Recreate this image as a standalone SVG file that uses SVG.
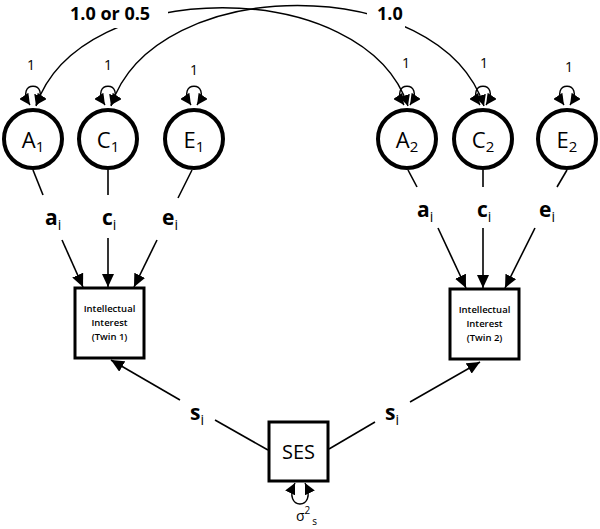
<svg xmlns="http://www.w3.org/2000/svg" width="600" height="529" viewBox="0 0 600 529">
<defs>
<style>
text{font-family:"Open Sans","Liberation Sans",sans-serif;fill:#000}
.lat{fill:#fff;stroke:#000;stroke-width:4}
.obs{fill:#fff;stroke:#000;stroke-width:3}
.ln{fill:none;stroke:#000;stroke-width:1.6}
.ar{fill:none;stroke:#000;stroke-width:1.6;marker-end:url(#ah)}
.cov{fill:none;stroke:#000;stroke-width:1.4;marker-start:url(#sh);marker-end:url(#sh)}
.loop{fill:none;stroke:#000;stroke-width:1.4;marker-start:url(#sh);marker-end:url(#sh)}
.nm{font-size:22px;text-anchor:middle}
.pl{font-size:21px;font-weight:bold}
.one{font-size:14px;text-anchor:middle}
.box{font-size:9.5px;font-weight:600;text-anchor:middle}
.big{font-size:18px;font-weight:bold}
</style>
<marker id="ah" markerUnits="userSpaceOnUse" markerWidth="13" markerHeight="12" refX="13" refY="6" orient="auto-start-reverse"><path d="M0,0 L13,6 L0,12 z" fill="#000"/></marker>
<marker id="sh" markerUnits="userSpaceOnUse" markerWidth="11" markerHeight="11" refX="11" refY="5.5" orient="auto-start-reverse"><path d="M0,0 L11,5.5 L0,11 z" fill="#000"/></marker>
</defs>
<rect width="600" height="529" fill="#fff"/>

<g id="connectors">
<!-- covariance arcs -->
<path class="cov" d="M408,106 C365,-25 80,-25 36,106"/>
<path class="cov" d="M484,106 C440,-28 155,-28 111,106"/>
<!-- self loops -->
<path class="loop" d="M30,105 C13,80 53,80 36,105"/>
<path class="loop" d="M105,105 C88,80 128,80 111,105"/>
<path class="loop" d="M191,105 C174,80 214,80 197,105"/>
<path class="loop" d="M404,105 C387,80 427,80 410,105"/>
<path class="loop" d="M480,105 C463,80 503,80 486,105"/>
<path class="loop" d="M564,105 C547,80 587,80 570,105"/>
<path class="loop" d="M295,483 C281,511 319,511 305,483"/>
<!-- twin 1 paths -->
<line class="ln" x1="33" y1="170" x2="43" y2="195"/>
<line class="ar" x1="62" y1="240" x2="83" y2="287"/>
<line class="ln" x1="108" y1="170" x2="108" y2="195"/>
<line class="ar" x1="108" y1="238" x2="108" y2="287"/>
<line class="ln" x1="192" y1="170" x2="178" y2="198"/>
<line class="ar" x1="157" y1="240" x2="134" y2="287"/>
<!-- twin 2 paths -->
<line class="ln" x1="408" y1="170" x2="417" y2="187"/>
<line class="ar" x1="438" y1="228" x2="466" y2="288"/>
<line class="ln" x1="483" y1="170" x2="483" y2="187"/>
<line class="ar" x1="483" y1="228" x2="483" y2="288"/>
<line class="ln" x1="567" y1="170" x2="557" y2="187"/>
<line class="ar" x1="535" y1="228" x2="505" y2="288"/>
<!-- SES paths -->
<line class="ln" x1="268" y1="450" x2="215" y2="420"/>
<line class="ar" x1="180" y1="400" x2="111" y2="360"/>
<line class="ln" x1="329" y1="449" x2="375" y2="422"/>
<line class="ar" x1="410" y1="402" x2="480" y2="362"/>
</g>

<g id="labels">
<rect x="62" y="0" width="106" height="28" fill="#fff"/>
<text class="big" x="70" y="20">1.0 or 0.5</text>
<rect x="367" y="0" width="38" height="29" fill="#fff"/>
<text class="big" x="377" y="20">1.0</text>
<text class="one" x="31" y="70">1</text>
<text class="one" x="108" y="70">1</text>
<text class="one" x="194" y="75">1</text>
<text class="one" x="406" y="68">1</text>
<text class="one" x="484" y="68">1</text>
<text class="one" x="569" y="72">1</text>
<text x="45" y="225"><tspan class="pl">a</tspan><tspan font-size="14" dy="5">i</tspan></text>
<text x="102" y="225"><tspan class="pl">c</tspan><tspan font-size="14" dy="5">i</tspan></text>
<text x="162" y="225"><tspan class="pl">e</tspan><tspan font-size="14" dy="5">i</tspan></text>
<text x="417" y="217"><tspan class="pl">a</tspan><tspan font-size="14" dy="5">i</tspan></text>
<text x="477" y="217"><tspan class="pl">c</tspan><tspan font-size="14" dy="5">i</tspan></text>
<text x="539" y="217"><tspan class="pl">e</tspan><tspan font-size="14" dy="5">i</tspan></text>
<text x="190" y="420"><tspan class="pl">s</tspan><tspan font-size="14" dy="5">i</tspan></text>
<text x="385" y="420"><tspan class="pl">s</tspan><tspan font-size="14" dy="5">i</tspan></text>
<text x="296" y="521" font-size="14">σ<tspan font-size="10" dy="-7">2</tspan><tspan font-size="10" dx="2" dy="11">s</tspan></text>
</g>

<g id="A1"><circle class="lat" cx="33" cy="139" r="29"/><text class="nm" x="33" y="148">A<tspan font-size="15" dy="4">1</tspan></text></g>
<g id="C1"><circle class="lat" cx="108" cy="139" r="29"/><text class="nm" x="108" y="148">C<tspan font-size="15" dy="4">1</tspan></text></g>
<g id="E1"><circle class="lat" cx="194" cy="139" r="29"/><text class="nm" x="194" y="148">E<tspan font-size="15" dy="4">1</tspan></text></g>
<g id="A2"><circle class="lat" cx="407" cy="139" r="29"/><text class="nm" x="407" y="148">A<tspan font-size="15" dy="4">2</tspan></text></g>
<g id="C2"><circle class="lat" cx="483" cy="139" r="29"/><text class="nm" x="483" y="148">C<tspan font-size="15" dy="4">2</tspan></text></g>
<g id="E2"><circle class="lat" cx="567" cy="139" r="29"/><text class="nm" x="567" y="148">E<tspan font-size="15" dy="4">2</tspan></text></g>

<g id="Twin1"><rect class="obs" x="75" y="288" width="69" height="70"/>
<text class="box" x="109.5" y="312">Intellectual</text><text class="box" x="109.5" y="326">Interest</text><text class="box" x="109.5" y="340">(Twin 1)</text></g>
<g id="Twin2"><rect class="obs" x="450" y="289" width="69" height="70"/>
<text class="box" x="484.5" y="313">Intellectual</text><text class="box" x="484.5" y="327">Interest</text><text class="box" x="484.5" y="341">(Twin 2)</text></g>
<g id="SES"><rect class="obs" x="269" y="422" width="59" height="59"/>
<text x="298.5" y="459" font-size="20" text-anchor="middle">SES</text></g>
</svg>
